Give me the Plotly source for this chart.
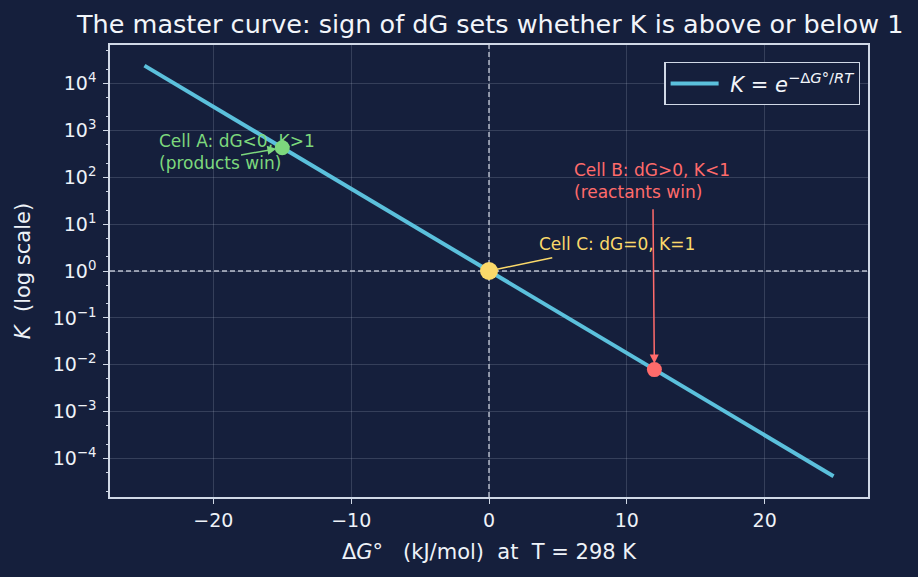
import math
import plotly.graph_objects as go

# Data
dG_line = [-25, 25]              # kJ/mol, line endpoints
K_line = [2.4e4, 4.2e-5]         # K at those endpoints
cell_names = ["Cell A", "Cell C", "Cell B"]
cell_dG = [-15, 0, 12]
cell_K = [426, 1.0, 7.9e-3]
cell_colors = ["#7dd87d", "#fbd96a", "#ff6b6b"]
ytick_vals = [1e-4, 1e-3, 1e-2, 1e-1, 1, 10, 100, 1000, 1e4]
ytick_text = ["10<sup>−4</sup>", "10<sup>−3</sup>", "10<sup>−2</sup>", "10<sup>−1</sup>",
              "10<sup>0</sup>", "10<sup>1</sup>", "10<sup>2</sup>", "10<sup>3</sup>", "10<sup>4</sup>"]
xtick_vals = [-20, -10, 0, 10, 20]
xtick_text = ["−20", "−10", "0", "10", "20"]
ref_K = 1.0
ref_dG = 0

BG = "#151f3c"
AX = "#d0d8e6"
FONT = "DejaVu Sans"

fig = go.Figure()
# dashed reference lines (drawn as traces beneath the curve)
fig.add_trace(go.Scatter(x=[-27.5, 27.5], y=[ref_K, ref_K], mode="lines", hoverinfo="skip",
                         line=dict(color="rgba(215,220,232,0.85)", width=1.4, dash="5px,3px"),
                         showlegend=False))
fig.add_trace(go.Scatter(x=[ref_dG, ref_dG], y=[10 ** -4.82, 10 ** 4.82], mode="lines",
                         hoverinfo="skip",
                         line=dict(color="rgba(215,220,232,0.85)", width=1.4, dash="5px,3px"),
                         showlegend=False))
fig.add_trace(go.Scatter(
    x=dG_line, y=K_line, mode="lines",
    line=dict(color="#5bc0dc", width=4),
    name="&nbsp;<i>K</i> = <i>e</i><sup>−Δ<i>G</i>°/<i>RT</i></sup>",
))
for i in range(3):
    fig.add_trace(go.Scatter(
        x=[cell_dG[i]], y=[cell_K[i]], mode="markers",
        marker=dict(color=cell_colors[i], size=18 if i == 1 else 15, line=dict(width=0)),
        showlegend=False,
    ))

def ly(v):
    return math.log10(v)

ANN = 17
# annotation texts
fig.add_annotation(x=-24.1, y=2.53, xref="x", yref="y", showarrow=False, xanchor="left",
                   align="left", text="Cell A: dG<0, K>1<br>(products win)",
                   font=dict(color=cell_colors[0], size=ANN, family=FONT))
fig.add_annotation(x=6.0, y=1.93, xref="x", yref="y", showarrow=False, xanchor="left",
                   align="left", text="Cell B: dG>0, K<1<br>(reactants win)",
                   font=dict(color=cell_colors[2], size=ANN, family=FONT))
fig.add_annotation(x=3.5, y=0.57, xref="x", yref="y", showarrow=False, xanchor="left",
                   align="left", text="Cell C: dG=0, K=1",
                   font=dict(color=cell_colors[1], size=ANN, family=FONT))
# arrows
fig.add_annotation(x=-15, y=ly(426), ax=-18.1, ay=2.47, xref="x", yref="y", axref="x", ayref="y",
                   text="", showarrow=True, arrowhead=2, arrowsize=1.2, arrowwidth=1.5,
                   arrowcolor=cell_colors[0], standoff=6)
fig.add_annotation(x=12, y=ly(7.9e-3), ax=11.9, ay=1.35, xref="x", yref="y", axref="x", ayref="y",
                   text="", showarrow=True, arrowhead=2, arrowsize=1.2, arrowwidth=1.5,
                   arrowcolor=cell_colors[2], standoff=6)
fig.add_annotation(x=0, y=0, ax=4.7, ay=0.29, xref="x", yref="y", axref="x", ayref="y",
                   text="", showarrow=True, arrowhead=0, arrowwidth=1.5,
                   arrowcolor=cell_colors[1], standoff=8)

fig.update_layout(
    width=918, height=577,
    paper_bgcolor=BG, plot_bgcolor=BG,
    margin=dict(l=110, r=50, t=45, b=80),
    font=dict(family=FONT, color="#eef2f8", size=19),
    title=dict(text="The master curve: sign of dG sets whether K is above or below 1",
               x=0.534, xanchor="center", y=0.958, yanchor="middle",
               font=dict(size=25.5, family=FONT, color="#f2f5fa")),
    showlegend=True,
    legend=dict(x=0.99, y=0.962, xanchor="right", yanchor="top",
                bgcolor=BG, bordercolor=AX, borderwidth=1.2, itemwidth=48,
                font=dict(size=21, family=FONT, color="#f2f5fa")),
    xaxis=dict(range=[-27.5, 27.5], tickvals=xtick_vals, ticktext=xtick_text,
               showgrid=True, gridcolor="rgba(200,210,230,0.18)", gridwidth=1,
               zeroline=False, showline=True, linecolor=AX, linewidth=1.5, mirror=True,
               ticks="outside", ticklen=5, tickcolor=AX,
               title=dict(text="Δ<i>G</i>°   (kJ/mol)  at  T = 298 K", standoff=15,
                          font=dict(size=21))),
    yaxis=dict(type="log", range=[-4.82, 4.82], tickvals=ytick_vals, ticktext=ytick_text,
               showgrid=True, gridcolor="rgba(200,210,230,0.18)", gridwidth=1,
               zeroline=False, showline=True, linecolor=AX, linewidth=1.5, mirror=True,
               ticks="outside", ticklen=5, tickcolor=AX, ticklabelstandoff=3,
               minor=dict(ticks="outside", ticklen=2.5, tickcolor=AX, showgrid=False),
               title=dict(text="<i>K</i>  (log scale)", standoff=16, font=dict(size=21))),
)

fig.write_html("out.html")
